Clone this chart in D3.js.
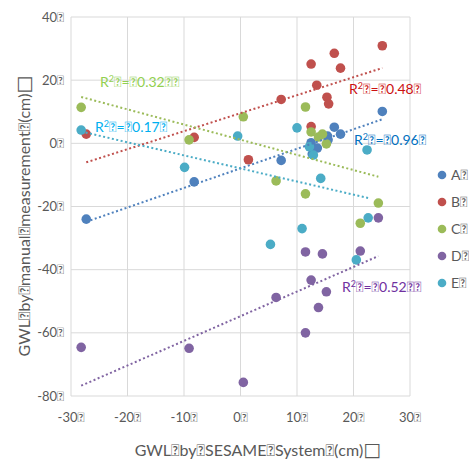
<!DOCTYPE html>
<html>
<head>
<meta charset="utf-8">
<script src="https://cdn.jsdelivr.net/npm/d3@7"></script>
<style>
  body { margin: 0; background: #fff; }
  text { font-family: Lato, "Open Sans", sans-serif; }
</style>
</head>
<body>
<script>
// missing-glyph placeholder seen in the reference labels
const T = "\uE000";

const seriesNames = ["A", "B", "C", "D", "E"];
const seriesColors = ["#4f81bd", "#c0504d", "#9bbb59", "#8064a2", "#4bacc6"];

const xA = [-27.3, -8.2, 7.2, 12.5, 12.7, 13.6, 15.4, 15.5, 16.6, 17.7, 25.1];
const yA = [-24, -12.2, -5.4, 0.2, -3.4, -1.5, 2.3, 1.1, 5.1, 2.9, 10.1];
const xB = [-27.3, -8.2, 1.4, 7.2, 12.5, 12.5, 13.5, 15.3, 15.6, 16.6, 17.7, 25.1];
const yB = [2.9, 1.9, -5.2, 13.9, 5.3, 25.1, 18.4, 14.6, 12.5, 28.5, 23.8, 30.9];
const xC = [-28.2, -9.1, 0.5, 6.3, 11.5, 11.5, 12.5, 13.8, 14.5, 15.2, 21.2, 24.4];
const yC = [11.4, 1.1, 8.4, -11.9, 11.5, -16.0, 3.6, 2.0, 2.9, -0.2, -25.3, -18.9];
const xD = [-28.2, -9.1, 0.5, 6.3, 11.5, 11.5, 12.5, 13.8, 14.5, 15.2, 21.2, 24.4];
const yD = [-64.6, -64.9, -75.7, -48.8, -34.4, -60.0, -43.3, -52.0, -35.0, -47.0, -34.1, -23.6];
const xE = [-28.2, -9.9, -0.5, 5.3, 10.0, 10.9, 12.2, 12.9, 14.2, 20.5, 22.4, 22.6];
const yE = [4.2, -7.6, 2.3, -32.0, 4.9, -27.0, -1.1, -3.7, -11.1, -36.9, -2.1, -23.6];

const xTicks = [-30, -20, -10, 0, 10, 20, 30];
const yTicks = [40, 20, 0, -20, -40, -60, -80];

const r2Labels = ["0.96", "0.48", "0.32", "0.52", "0.17"];
const r2Colors = ["#0070c0", "#cc1111", "#92d050", "#7030a0", "#00b0f0"];

const xs = [xA, xB, xC, xD, xE];
const ys = [yA, yB, yC, yD, yE];

const width = 469, height = 459;
const svg = d3.select("body").append("svg")
  .attr("width", width).attr("height", height);

const x = d3.scaleLinear().domain([-30, 30]).range([71, 410]);
const y = d3.scaleLinear().domain([-80, 40]).range([396, 17]);

// gridlines
svg.append("g").selectAll("line").data(xTicks).enter().append("line")
  .attr("x1", d => x(d)).attr("x2", d => x(d))
  .attr("y1", y(40)).attr("y2", y(-80))
  .attr("stroke", "#d9d9d9").attr("stroke-width", 1);
svg.append("g").selectAll("line").data(yTicks).enter().append("line")
  .attr("x1", x(-30)).attr("x2", x(30))
  .attr("y1", d => y(d)).attr("y2", d => y(d))
  .attr("stroke", "#d9d9d9").attr("stroke-width", 1);

// tick labels
svg.append("g").selectAll("text").data(yTicks).enter().append("text")
  .attr("x", 64).attr("y", d => y(d) + 4.5)
  .attr("text-anchor", "end")
  .attr("font-size", 13).attr("fill", "#595959")
  .text(d => d + T);
svg.append("g").selectAll("text").data(xTicks).enter().append("text")
  .attr("x", d => x(d)).attr("y", 422)
  .attr("text-anchor", "middle")
  .attr("font-size", 13).attr("fill", "#595959")
  .text(d => d + T);

// axis titles
const xTitle = svg.append("text")
  .attr("x", 258).attr("y", 456)
  .attr("text-anchor", "middle")
  .attr("font-size", 16).attr("fill", "#595959");
xTitle.append("tspan").text("GWL" + T + "by" + T + "SESAME" + T + "System" + T + "(cm)");
xTitle.append("tspan").attr("font-family", "DejaVu Sans").attr("font-size", 19).text("\u25A1");

const yTitle = svg.append("text")
  .attr("transform", "translate(30,216) rotate(-90)")
  .attr("text-anchor", "middle")
  .attr("font-size", 16).attr("fill", "#595959");
yTitle.append("tspan").text("GWL" + T + "by" + T + "manual" + T + "measurement" + T + "(cm)");
yTitle.append("tspan").attr("font-family", "DejaVu Sans").attr("font-size", 19).text("\u25A1");

// linear trendlines (least squares over each series' own x range)
function fit(xv, yv) {
  const n = xv.length;
  const mx = d3.mean(xv), my = d3.mean(yv);
  let sxy = 0, sxx = 0;
  for (let i = 0; i < n; i++) {
    sxy += (xv[i] - mx) * (yv[i] - my);
    sxx += (xv[i] - mx) * (xv[i] - mx);
  }
  const b = sxy / sxx;
  return { b: b, a: my - b * mx, x0: d3.min(xv), x1: d3.max(xv) };
}

// points
xs.forEach((xv, s) => {
  svg.append("g").selectAll("circle").data(xv).enter().append("circle")
    .attr("cx", d => x(d))
    .attr("cy", (d, i) => y(ys[s][i]))
    .attr("r", 4.8)
    .attr("fill", seriesColors[s]);
});

xs.forEach((xv, s) => {
  const f = fit(xv, ys[s]);
  svg.append("line")
    .attr("x1", x(f.x0)).attr("y1", y(f.a + f.b * f.x0))
    .attr("x2", x(f.x1)).attr("y2", y(f.a + f.b * f.x1))
    .attr("stroke", seriesColors[s]).attr("stroke-width", 2)
    .attr("stroke-dasharray", "2,2.5");
});

// R² labels
const labelPos = [[354, 145], [349, 94], [100, 87], [342, 292], [95, 132]];
r2Labels.forEach((t, s) => {
  const tx = svg.append("text")
    .attr("x", labelPos[s][0]).attr("y", labelPos[s][1])
    .attr("font-size", 14).attr("fill", r2Colors[s]);
  tx.append("tspan").text("R");
  tx.append("tspan").attr("font-size", 9).attr("dy", -5).text("2");
  tx.append("tspan").attr("dy", 5).text(T + "=" + T + t + T + (s === 2 || s === 3 ? T : ""));
});

// legend
const legend = svg.append("g").selectAll("g").data(seriesNames).enter().append("g")
  .attr("transform", (d, i) => `translate(442,${175 + i * 27})`);
legend.append("circle").attr("r", 4.3).attr("fill", (d, i) => seriesColors[i]);
legend.append("text").attr("x", 9).attr("y", 5)
  .attr("font-size", 14).attr("fill", "#595959")
  .text(d => d + T);
</script>
</body>
</html>
